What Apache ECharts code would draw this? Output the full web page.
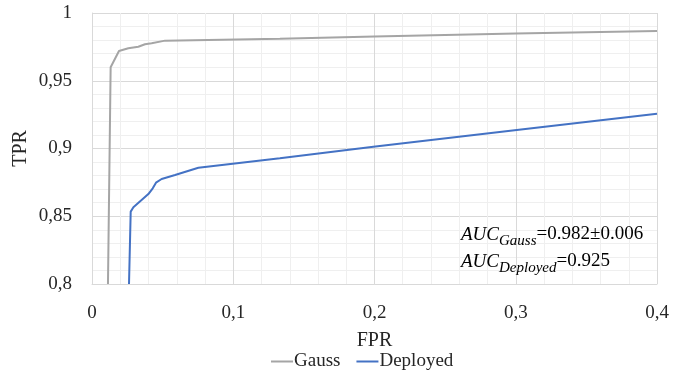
<!DOCTYPE html>
<html>
<head>
<meta charset="utf-8">
<script src="https://cdn.jsdelivr.net/npm/echarts@6/dist/echarts.min.js"></script>
<style>html,body{margin:0;padding:0;background:#fff}#c{width:681px;height:377px}</style>
</head>
<body>
<div id="c"></div>
<script>
const FONT = '"Liberation Serif", "DejaVu Serif", serif';
const seriesNames = ['Gauss', 'Deployed'];
const gaussFPR = [0.0113, 0.0132, 0.0191, 0.0257, 0.0328, 0.0375, 0.0422, 0.0517, 0.133, 0.2, 0.3, 0.4];
const gaussTPR = [0.800, 0.960, 0.972, 0.974, 0.9751, 0.9769, 0.9776, 0.9796, 0.981, 0.9826, 0.9848, 0.9868];
const deployedFPR = [0.0262, 0.0274, 0.0293, 0.0399, 0.043, 0.0453, 0.0493, 0.0588, 0.0753, 0.133, 0.1992, 0.3007, 0.4];
const deployedTPR = [0.800, 0.8534, 0.8566, 0.8664, 0.8706, 0.8748, 0.8775, 0.8804, 0.8858, 0.8928, 0.9013, 0.9137, 0.9257];
const xTicks = [0, 0.1, 0.2, 0.3, 0.4];
const yTicks = [0.8, 0.85, 0.9, 0.95, 1];

const zip = (a, b) => a.map((v, i) => [v, b[i]]);
const fmt = v => String(Math.round(v * 1000) / 1000).replace('.', ',');

const richAUC = {
  i: {fontFamily: FONT, fontStyle: 'italic', fontSize: 19, fill: '#000', verticalAlign: 'bottom', padding: [0, 0, 5, 0]},
  s: {fontFamily: FONT, fontStyle: 'italic', fontSize: 15, fill: '#000', verticalAlign: 'bottom'},
  n: {fontFamily: FONT, fontSize: 19, fill: '#000', verticalAlign: 'bottom', padding: [0, 0, 5, 0]}
};

const chart = echarts.init(document.getElementById('c'), null, {renderer: 'canvas'});
chart.setOption({
  animation: false,
  textStyle: {fontFamily: FONT},
  grid: {left: 92, right: 24, top: 13, bottom: 93, containLabel: false},
  xAxis: {
    type: 'value', min: xTicks[0], max: xTicks[xTicks.length - 1], interval: 0.1,
    name: 'FPR', nameLocation: 'middle', nameGap: 47, nameMoveOverlap: false,
    nameTextStyle: {fontFamily: FONT, fontSize: 20, color: '#262626'},
    axisLine: {show: true, lineStyle: {color: '#D9D9D9', width: 1}},
    axisTick: {show: false},
    axisLabel: {formatter: fmt, fontFamily: FONT, fontSize: 19, color: '#262626', margin: 20},
    splitLine: {show: true, lineStyle: {color: '#D9D9D9', width: 1}},
    minorTick: {show: false, splitNumber: 5},
    minorSplitLine: {show: true, lineStyle: {color: '#EFEFEF', width: 1}}
  },
  yAxis: {
    type: 'value', min: yTicks[0], max: yTicks[yTicks.length - 1], interval: 0.05,
    name: 'TPR', nameLocation: 'middle', nameGap: 61, nameRotate: 90, nameMoveOverlap: false,
    nameTextStyle: {fontFamily: FONT, fontSize: 20, color: '#262626'},
    axisLine: {show: true, lineStyle: {color: '#D9D9D9', width: 1}},
    axisTick: {show: false},
    axisLabel: {formatter: fmt, fontFamily: FONT, fontSize: 19, color: '#262626', margin: 20},
    splitLine: {show: true, lineStyle: {color: '#D9D9D9', width: 1}},
    minorTick: {show: false, splitNumber: 5},
    minorSplitLine: {show: true, lineStyle: {color: '#EFEFEF', width: 1}}
  },
  legend: {
    bottom: 1, left: 266, itemGap: 16, itemWidth: 22, itemHeight: 2, icon: 'rect',
    textStyle: {fontFamily: FONT, fontSize: 19, color: '#262626', padding: [0, 0, 0, -4]},
    data: seriesNames
  },
  series: [
    {name: seriesNames[0], type: 'line', data: zip(gaussFPR, gaussTPR), showSymbol: false, symbol: 'none',
     lineStyle: {color: '#A5A5A5', width: 2}, itemStyle: {color: '#A5A5A5'}, clip: true},
    {name: seriesNames[1], type: 'line', data: zip(deployedFPR, deployedTPR), showSymbol: false, symbol: 'none',
     lineStyle: {color: '#4472C4', width: 2}, itemStyle: {color: '#4472C4'}, clip: true}
  ],
  graphic: [
    {type: 'text', left: 461, top: 225, z: 10,
     style: {text: '{i|AUC}{s|Gauss}{n|=0.982±0.006}', rich: richAUC}},
    {type: 'text', left: 461, top: 252, z: 10,
     style: {text: '{i|AUC}{s|Deployed}{n|=0.925}', rich: richAUC}}
  ]
});
</script>
</body>
</html>
